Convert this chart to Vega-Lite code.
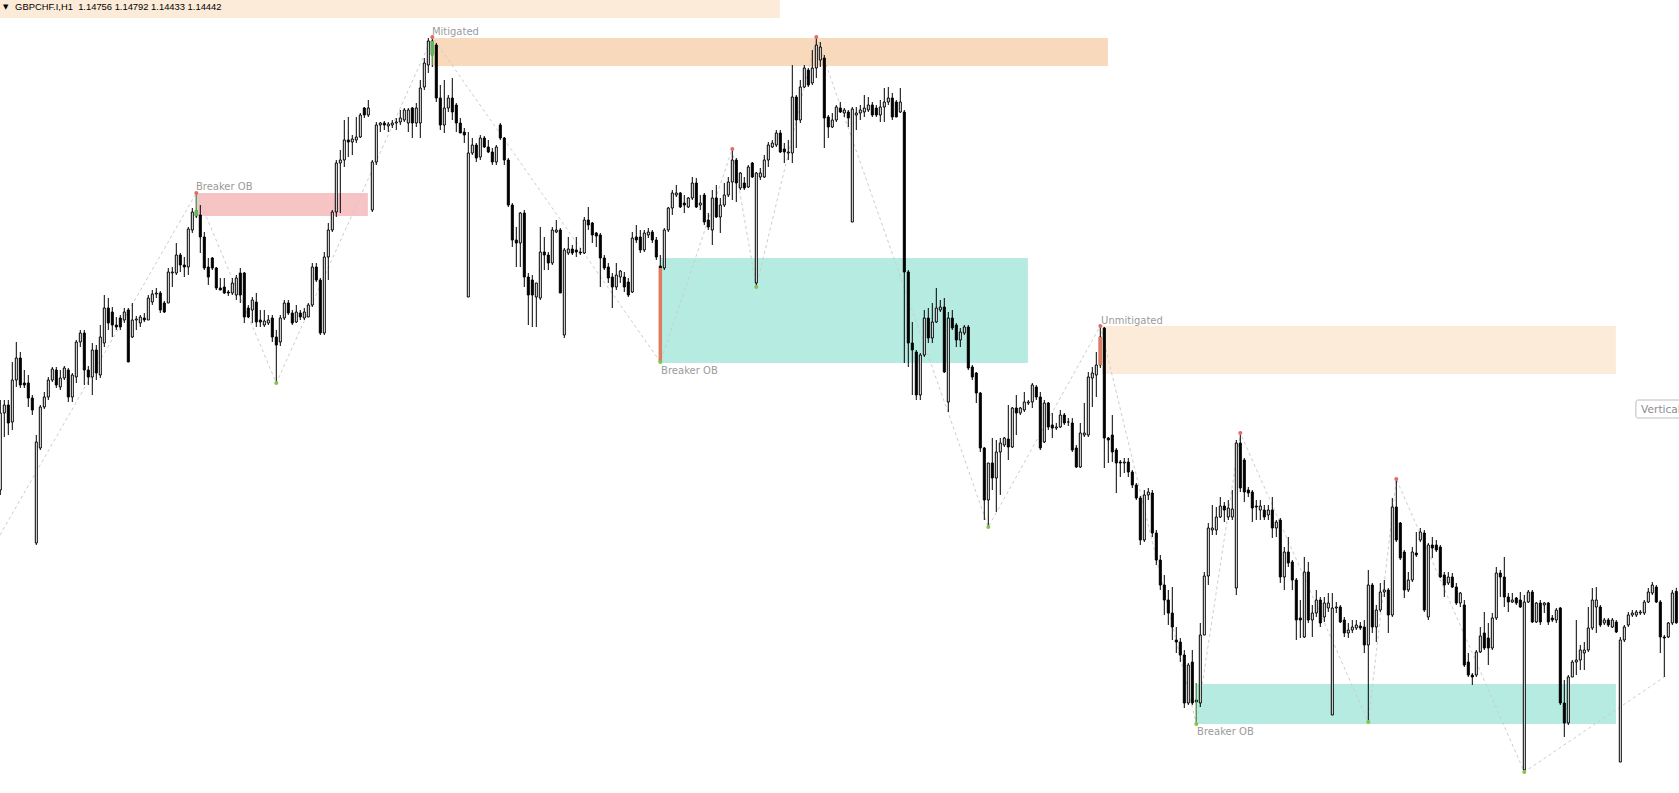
{
  "$schema": "https://vega.github.io/schema/vega-lite/v6.json",
  "width": 1679,
  "height": 793,
  "autosize": {"type": "none"},
  "padding": 0,
  "background": "#ffffff",
  "view": {"stroke": null},
  "resolve": {"scale": {"color": "independent"}},
  "datasets": {
    "candles": [
      {"bar":0,"o":1.1577,"h":1.1667,"l":1.1572,"c":1.1654},
      {"bar":1,"o":1.1654,"h":1.1667,"l":1.1630,"c":1.1662},
      {"bar":2,"o":1.1662,"h":1.1667,"l":1.1632,"c":1.1644},
      {"bar":3,"o":1.1645,"h":1.1705,"l":1.1637,"c":1.1687},
      {"bar":4,"o":1.1687,"h":1.1725,"l":1.1680,"c":1.1709},
      {"bar":5,"o":1.1709,"h":1.1715,"l":1.1679,"c":1.1682},
      {"bar":6,"o":1.1684,"h":1.1697,"l":1.1679,"c":1.1682},
      {"bar":7,"o":1.1684,"h":1.1692,"l":1.1660,"c":1.1669},
      {"bar":8,"o":1.1669,"h":1.1672,"l":1.1652,"c":1.1657},
      {"bar":9,"o":1.1524,"h":1.1632,"l":1.1522,"c":1.1625},
      {"bar":10,"o":1.1619,"h":1.1662,"l":1.1617,"c":1.1660},
      {"bar":11,"o":1.1660,"h":1.1675,"l":1.1658,"c":1.1670},
      {"bar":12,"o":1.1670,"h":1.1690,"l":1.1667,"c":1.1687},
      {"bar":13,"o":1.1687,"h":1.1700,"l":1.1685,"c":1.1698},
      {"bar":14,"o":1.1697,"h":1.1700,"l":1.1679,"c":1.1682},
      {"bar":15,"o":1.1680,"h":1.1697,"l":1.1677,"c":1.1689},
      {"bar":16,"o":1.1689,"h":1.1701,"l":1.1687,"c":1.1699},
      {"bar":17,"o":1.1697,"h":1.1699,"l":1.1665,"c":1.1670},
      {"bar":18,"o":1.1670,"h":1.1694,"l":1.1665,"c":1.1692},
      {"bar":19,"o":1.1690,"h":1.1727,"l":1.1684,"c":1.1725},
      {"bar":20,"o":1.1725,"h":1.1737,"l":1.1720,"c":1.1734},
      {"bar":21,"o":1.1734,"h":1.1737,"l":1.1682,"c":1.1697},
      {"bar":22,"o":1.1697,"h":1.1701,"l":1.1682,"c":1.1690},
      {"bar":23,"o":1.1690,"h":1.1724,"l":1.1672,"c":1.1717},
      {"bar":24,"o":1.1717,"h":1.1722,"l":1.1687,"c":1.1694},
      {"bar":25,"o":1.1692,"h":1.1742,"l":1.1689,"c":1.1730},
      {"bar":26,"o":1.1724,"h":1.1772,"l":1.1720,"c":1.1759},
      {"bar":27,"o":1.1759,"h":1.1769,"l":1.1737,"c":1.1744},
      {"bar":28,"o":1.1755,"h":1.1760,"l":1.1730,"c":1.1742},
      {"bar":29,"o":1.1742,"h":1.1750,"l":1.1737,"c":1.1740},
      {"bar":30,"o":1.1749,"h":1.1752,"l":1.1737,"c":1.1740},
      {"bar":31,"o":1.1747,"h":1.1759,"l":1.1744,"c":1.1755},
      {"bar":32,"o":1.1757,"h":1.1759,"l":1.1705,"c":1.1705},
      {"bar":33,"o":1.1730,"h":1.1764,"l":1.1729,"c":1.1747},
      {"bar":34,"o":1.1747,"h":1.1751,"l":1.1737,"c":1.1748},
      {"bar":35,"o":1.1744,"h":1.1752,"l":1.1740,"c":1.1750},
      {"bar":36,"o":1.1749,"h":1.1754,"l":1.1745,"c":1.1747},
      {"bar":37,"o":1.1747,"h":1.1772,"l":1.1747,"c":1.1769},
      {"bar":38,"o":1.1765,"h":1.1777,"l":1.1762,"c":1.1773},
      {"bar":39,"o":1.1773,"h":1.1779,"l":1.1769,"c":1.1774},
      {"bar":40,"o":1.1774,"h":1.1776,"l":1.1754,"c":1.1757},
      {"bar":41,"o":1.1764,"h":1.1766,"l":1.1754,"c":1.1755},
      {"bar":42,"o":1.1764,"h":1.1799,"l":1.1764,"c":1.1795},
      {"bar":43,"o":1.1794,"h":1.1800,"l":1.1780,"c":1.1795},
      {"bar":44,"o":1.1794,"h":1.1824,"l":1.1792,"c":1.1812},
      {"bar":45,"o":1.1812,"h":1.1814,"l":1.1795,"c":1.1802},
      {"bar":46,"o":1.1802,"h":1.1810,"l":1.1790,"c":1.1800},
      {"bar":47,"o":1.1800,"h":1.1840,"l":1.1792,"c":1.1838},
      {"bar":48,"o":1.1837,"h":1.1859,"l":1.1834,"c":1.1855},
      {"bar":49,"o":1.1855,"h":1.1874,"l":1.1849,"c":1.1851},
      {"bar":50,"o":1.1852,"h":1.1862,"l":1.1814,"c":1.1830},
      {"bar":51,"o":1.1830,"h":1.1835,"l":1.1797,"c":1.1799},
      {"bar":52,"o":1.1800,"h":1.1809,"l":1.1782,"c":1.1790},
      {"bar":53,"o":1.1809,"h":1.1810,"l":1.1797,"c":1.1799},
      {"bar":54,"o":1.1799,"h":1.1800,"l":1.1777,"c":1.1779},
      {"bar":55,"o":1.1779,"h":1.1789,"l":1.1777,"c":1.1777},
      {"bar":56,"o":1.1780,"h":1.1789,"l":1.1773,"c":1.1774},
      {"bar":57,"o":1.1775,"h":1.1777,"l":1.1771,"c":1.1774},
      {"bar":58,"o":1.1774,"h":1.1789,"l":1.1772,"c":1.1784},
      {"bar":59,"o":1.1772,"h":1.1792,"l":1.1767,"c":1.1789},
      {"bar":60,"o":1.1794,"h":1.1799,"l":1.1764,"c":1.1772},
      {"bar":61,"o":1.1794,"h":1.1795,"l":1.1744,"c":1.1750},
      {"bar":62,"o":1.1759,"h":1.1762,"l":1.1749,"c":1.1750},
      {"bar":63,"o":1.1757,"h":1.1770,"l":1.1744,"c":1.1767},
      {"bar":64,"o":1.1765,"h":1.1774,"l":1.1740,"c":1.1745},
      {"bar":65,"o":1.1747,"h":1.1757,"l":1.1740,"c":1.1745},
      {"bar":66,"o":1.1742,"h":1.1757,"l":1.1740,"c":1.1746},
      {"bar":67,"o":1.1744,"h":1.1752,"l":1.1742,"c":1.1747},
      {"bar":68,"o":1.1749,"h":1.1752,"l":1.1725,"c":1.1730},
      {"bar":69,"o":1.1730,"h":1.1737,"l":1.1684,"c":1.1722},
      {"bar":70,"o":1.1725,"h":1.1752,"l":1.1721,"c":1.1749},
      {"bar":71,"o":1.1749,"h":1.1767,"l":1.1747,"c":1.1764},
      {"bar":72,"o":1.1764,"h":1.1767,"l":1.1752,"c":1.1754},
      {"bar":73,"o":1.1754,"h":1.1757,"l":1.1742,"c":1.1744},
      {"bar":74,"o":1.1745,"h":1.1762,"l":1.1744,"c":1.1755},
      {"bar":75,"o":1.1754,"h":1.1757,"l":1.1747,"c":1.1750},
      {"bar":76,"o":1.1749,"h":1.1759,"l":1.1747,"c":1.1755},
      {"bar":77,"o":1.1750,"h":1.1764,"l":1.1750,"c":1.1762},
      {"bar":78,"o":1.1762,"h":1.1804,"l":1.1760,"c":1.1800},
      {"bar":79,"o":1.1800,"h":1.1804,"l":1.1785,"c":1.1787},
      {"bar":80,"o":1.1787,"h":1.1789,"l":1.1732,"c":1.1734},
      {"bar":81,"o":1.1734,"h":1.1815,"l":1.1732,"c":1.1810},
      {"bar":82,"o":1.1810,"h":1.1844,"l":1.1787,"c":1.1837},
      {"bar":83,"o":1.1837,"h":1.1857,"l":1.1835,"c":1.1855},
      {"bar":84,"o":1.1855,"h":1.1907,"l":1.1850,"c":1.1904},
      {"bar":85,"o":1.1904,"h":1.1917,"l":1.1854,"c":1.1907},
      {"bar":86,"o":1.1907,"h":1.1947,"l":1.1900,"c":1.1927},
      {"bar":87,"o":1.1927,"h":1.1950,"l":1.1910,"c":1.1925},
      {"bar":88,"o":1.1925,"h":1.1932,"l":1.1912,"c":1.1928},
      {"bar":89,"o":1.1927,"h":1.1950,"l":1.1924,"c":1.1930},
      {"bar":90,"o":1.1930,"h":1.1954,"l":1.1929,"c":1.1952},
      {"bar":91,"o":1.1959,"h":1.1960,"l":1.1949,"c":1.1952},
      {"bar":92,"o":1.1952,"h":1.1967,"l":1.1950,"c":1.1959},
      {"bar":93,"o":1.1857,"h":1.1907,"l":1.1855,"c":1.1905},
      {"bar":94,"o":1.1905,"h":1.1945,"l":1.1902,"c":1.1942},
      {"bar":95,"o":1.1942,"h":1.1945,"l":1.1935,"c":1.1944},
      {"bar":96,"o":1.1944,"h":1.1946,"l":1.1937,"c":1.1942},
      {"bar":97,"o":1.1941,"h":1.1945,"l":1.1935,"c":1.1943},
      {"bar":98,"o":1.1942,"h":1.1947,"l":1.1939,"c":1.1944},
      {"bar":99,"o":1.1944,"h":1.1949,"l":1.1937,"c":1.1945},
      {"bar":100,"o":1.1945,"h":1.1957,"l":1.1942,"c":1.1949},
      {"bar":101,"o":1.1947,"h":1.1959,"l":1.1945,"c":1.1957},
      {"bar":102,"o":1.1944,"h":1.1959,"l":1.1935,"c":1.1957},
      {"bar":103,"o":1.1959,"h":1.1960,"l":1.1929,"c":1.1944},
      {"bar":104,"o":1.1944,"h":1.1964,"l":1.1940,"c":1.1959},
      {"bar":105,"o":1.1944,"h":1.1987,"l":1.1929,"c":1.1979},
      {"bar":106,"o":1.1980,"h":1.2009,"l":1.1977,"c":1.2004},
      {"bar":107,"o":1.2002,"h":1.2029,"l":1.1994,"c":1.2026},
      {"bar":108,"o":1.2026,"h":1.2030,"l":1.2000,"c":1.2012},
      {"bar":109,"o":1.2022,"h":1.2024,"l":1.1965,"c":1.1969},
      {"bar":110,"o":1.1969,"h":1.1982,"l":1.1937,"c":1.1942},
      {"bar":111,"o":1.1942,"h":1.1987,"l":1.1934,"c":1.1959},
      {"bar":112,"o":1.1959,"h":1.1972,"l":1.1955,"c":1.1969},
      {"bar":113,"o":1.1969,"h":1.1989,"l":1.1947,"c":1.1955},
      {"bar":114,"o":1.1962,"h":1.1964,"l":1.1935,"c":1.1944},
      {"bar":115,"o":1.1944,"h":1.1949,"l":1.1934,"c":1.1934},
      {"bar":116,"o":1.1935,"h":1.1939,"l":1.1924,"c":1.1932},
      {"bar":117,"o":1.1770,"h":1.1935,"l":1.1770,"c":1.1914},
      {"bar":118,"o":1.1914,"h":1.1929,"l":1.1912,"c":1.1922},
      {"bar":119,"o":1.1922,"h":1.1924,"l":1.1905,"c":1.1909},
      {"bar":120,"o":1.1910,"h":1.1932,"l":1.1907,"c":1.1929},
      {"bar":121,"o":1.1929,"h":1.1931,"l":1.1919,"c":1.1920},
      {"bar":122,"o":1.1920,"h":1.1927,"l":1.1914,"c":1.1915},
      {"bar":123,"o":1.1915,"h":1.1919,"l":1.1902,"c":1.1905},
      {"bar":124,"o":1.1905,"h":1.1922,"l":1.1902,"c":1.1920},
      {"bar":125,"o":1.1942,"h":1.1944,"l":1.1927,"c":1.1929},
      {"bar":126,"o":1.1929,"h":1.1930,"l":1.1902,"c":1.1907},
      {"bar":127,"o":1.1907,"h":1.1909,"l":1.1860,"c":1.1862},
      {"bar":128,"o":1.1862,"h":1.1864,"l":1.1820,"c":1.1827},
      {"bar":129,"o":1.1827,"h":1.1840,"l":1.1800,"c":1.1824},
      {"bar":130,"o":1.1824,"h":1.1855,"l":1.1800,"c":1.1854},
      {"bar":131,"o":1.1854,"h":1.1857,"l":1.1780,"c":1.1790},
      {"bar":132,"o":1.1790,"h":1.1794,"l":1.1742,"c":1.1772},
      {"bar":133,"o":1.1787,"h":1.1792,"l":1.1740,"c":1.1772},
      {"bar":134,"o":1.1770,"h":1.1784,"l":1.1740,"c":1.1784},
      {"bar":135,"o":1.1769,"h":1.1840,"l":1.1767,"c":1.1815},
      {"bar":136,"o":1.1815,"h":1.1830,"l":1.1797,"c":1.1812},
      {"bar":137,"o":1.1812,"h":1.1815,"l":1.1797,"c":1.1804},
      {"bar":138,"o":1.1804,"h":1.1840,"l":1.1802,"c":1.1837},
      {"bar":139,"o":1.1835,"h":1.1847,"l":1.1834,"c":1.1837},
      {"bar":140,"o":1.1837,"h":1.1839,"l":1.1774,"c":1.1774},
      {"bar":141,"o":1.1732,"h":1.1819,"l":1.1729,"c":1.1817},
      {"bar":142,"o":1.1814,"h":1.1830,"l":1.1812,"c":1.1818},
      {"bar":143,"o":1.1818,"h":1.1822,"l":1.1812,"c":1.1814},
      {"bar":144,"o":1.1817,"h":1.1830,"l":1.1810,"c":1.1815},
      {"bar":145,"o":1.1815,"h":1.1819,"l":1.1812,"c":1.1814},
      {"bar":146,"o":1.1814,"h":1.1850,"l":1.1813,"c":1.1847},
      {"bar":147,"o":1.1847,"h":1.1860,"l":1.1837,"c":1.1842},
      {"bar":148,"o":1.1844,"h":1.1845,"l":1.1824,"c":1.1832},
      {"bar":149,"o":1.1834,"h":1.1835,"l":1.1820,"c":1.1831},
      {"bar":150,"o":1.1832,"h":1.1834,"l":1.1780,"c":1.1809},
      {"bar":151,"o":1.1809,"h":1.1812,"l":1.1797,"c":1.1799},
      {"bar":152,"o":1.1800,"h":1.1804,"l":1.1784,"c":1.1789},
      {"bar":153,"o":1.1790,"h":1.1794,"l":1.1759,"c":1.1780},
      {"bar":154,"o":1.1780,"h":1.1804,"l":1.1777,"c":1.1792},
      {"bar":155,"o":1.1790,"h":1.1797,"l":1.1784,"c":1.1796},
      {"bar":156,"o":1.1790,"h":1.1795,"l":1.1775,"c":1.1780},
      {"bar":157,"o":1.1785,"h":1.1789,"l":1.1770,"c":1.1772},
      {"bar":158,"o":1.1775,"h":1.1835,"l":1.1774,"c":1.1829},
      {"bar":159,"o":1.1830,"h":1.1842,"l":1.1824,"c":1.1827},
      {"bar":160,"o":1.1830,"h":1.1837,"l":1.1814,"c":1.1817},
      {"bar":161,"o":1.1817,"h":1.1837,"l":1.1815,"c":1.1834},
      {"bar":162,"o":1.1832,"h":1.1839,"l":1.1829,"c":1.1835},
      {"bar":163,"o":1.1835,"h":1.1837,"l":1.1824,"c":1.1827},
      {"bar":164,"o":1.1827,"h":1.1830,"l":1.1807,"c":1.1810},
      {"bar":165,"o":1.1801,"h":1.1812,"l":1.1705,"c":1.1799},
      {"bar":166,"o":1.1799,"h":1.1839,"l":1.1797,"c":1.1837},
      {"bar":167,"o":1.1837,"h":1.1860,"l":1.1835,"c":1.1859},
      {"bar":168,"o":1.1859,"h":1.1877,"l":1.1852,"c":1.1874},
      {"bar":169,"o":1.1872,"h":1.1882,"l":1.1870,"c":1.1874},
      {"bar":170,"o":1.1874,"h":1.1875,"l":1.1859,"c":1.1860},
      {"bar":171,"o":1.1864,"h":1.1872,"l":1.1854,"c":1.1862},
      {"bar":172,"o":1.1860,"h":1.1870,"l":1.1859,"c":1.1869},
      {"bar":173,"o":1.1869,"h":1.1890,"l":1.1867,"c":1.1884},
      {"bar":174,"o":1.1884,"h":1.1889,"l":1.1859,"c":1.1860},
      {"bar":175,"o":1.1862,"h":1.1872,"l":1.1857,"c":1.1864},
      {"bar":176,"o":1.1872,"h":1.1874,"l":1.1842,"c":1.1845},
      {"bar":177,"o":1.1847,"h":1.1854,"l":1.1837,"c":1.1840},
      {"bar":178,"o":1.1837,"h":1.1877,"l":1.1822,"c":1.1869},
      {"bar":179,"o":1.1869,"h":1.1882,"l":1.1849,"c":1.1850},
      {"bar":180,"o":1.1850,"h":1.1869,"l":1.1834,"c":1.1862},
      {"bar":181,"o":1.1862,"h":1.1884,"l":1.1860,"c":1.1872},
      {"bar":182,"o":1.1872,"h":1.1890,"l":1.1870,"c":1.1885},
      {"bar":183,"o":1.1885,"h":1.1918,"l":1.1867,"c":1.1907},
      {"bar":184,"o":1.1907,"h":1.1909,"l":1.1865,"c":1.1884},
      {"bar":185,"o":1.1879,"h":1.1895,"l":1.1877,"c":1.1894},
      {"bar":186,"o":1.1884,"h":1.1890,"l":1.1877,"c":1.1879},
      {"bar":187,"o":1.1880,"h":1.1902,"l":1.1879,"c":1.1900},
      {"bar":188,"o":1.1904,"h":1.1905,"l":1.1889,"c":1.1890},
      {"bar":189,"o":1.1784,"h":1.1895,"l":1.1780,"c":1.1894},
      {"bar":190,"o":1.1890,"h":1.1899,"l":1.1887,"c":1.1894},
      {"bar":191,"o":1.1890,"h":1.1912,"l":1.1889,"c":1.1907},
      {"bar":192,"o":1.1907,"h":1.1925,"l":1.1900,"c":1.1922},
      {"bar":193,"o":1.1920,"h":1.1927,"l":1.1919,"c":1.1924},
      {"bar":194,"o":1.1922,"h":1.1937,"l":1.1920,"c":1.1934},
      {"bar":195,"o":1.1934,"h":1.1937,"l":1.1914,"c":1.1915},
      {"bar":196,"o":1.1918,"h":1.1924,"l":1.1904,"c":1.1915},
      {"bar":197,"o":1.1914,"h":1.1927,"l":1.1907,"c":1.1915},
      {"bar":198,"o":1.1914,"h":1.2002,"l":1.1904,"c":1.1970},
      {"bar":199,"o":1.1970,"h":1.1972,"l":1.1919,"c":1.1947},
      {"bar":200,"o":1.1947,"h":1.1987,"l":1.1944,"c":1.1980},
      {"bar":201,"o":1.1980,"h":1.2002,"l":1.1979,"c":1.1999},
      {"bar":202,"o":1.1997,"h":1.1999,"l":1.1980,"c":1.1982},
      {"bar":203,"o":1.1984,"h":1.2017,"l":1.1982,"c":1.1999},
      {"bar":204,"o":1.1999,"h":1.2030,"l":1.1989,"c":1.2022},
      {"bar":205,"o":1.2007,"h":1.2025,"l":1.2000,"c":1.2020},
      {"bar":206,"o":1.2009,"h":1.2012,"l":1.1919,"c":1.1949},
      {"bar":207,"o":1.1950,"h":1.1952,"l":1.1929,"c":1.1940},
      {"bar":208,"o":1.1940,"h":1.1954,"l":1.1939,"c":1.1947},
      {"bar":209,"o":1.1947,"h":1.1962,"l":1.1945,"c":1.1960},
      {"bar":210,"o":1.1959,"h":1.1965,"l":1.1954,"c":1.1955},
      {"bar":211,"o":1.1954,"h":1.1959,"l":1.1950,"c":1.1957},
      {"bar":212,"o":1.1955,"h":1.1957,"l":1.1940,"c":1.1949},
      {"bar":213,"o":1.1845,"h":1.1960,"l":1.1845,"c":1.1958},
      {"bar":214,"o":1.1952,"h":1.1960,"l":1.1937,"c":1.1954},
      {"bar":215,"o":1.1954,"h":1.1962,"l":1.1947,"c":1.1957},
      {"bar":216,"o":1.1955,"h":1.1972,"l":1.1950,"c":1.1959},
      {"bar":217,"o":1.1957,"h":1.1970,"l":1.1955,"c":1.1962},
      {"bar":218,"o":1.1962,"h":1.1965,"l":1.1950,"c":1.1952},
      {"bar":219,"o":1.1959,"h":1.1962,"l":1.1950,"c":1.1952},
      {"bar":220,"o":1.1952,"h":1.1967,"l":1.1945,"c":1.1960},
      {"bar":221,"o":1.1960,"h":1.1979,"l":1.1945,"c":1.1965},
      {"bar":222,"o":1.1965,"h":1.1980,"l":1.1962,"c":1.1969},
      {"bar":223,"o":1.1969,"h":1.1974,"l":1.1947,"c":1.1950},
      {"bar":224,"o":1.1965,"h":1.1967,"l":1.1950,"c":1.1950},
      {"bar":225,"o":1.1955,"h":1.1979,"l":1.1954,"c":1.1965},
      {"bar":226,"o":1.1955,"h":1.1957,"l":1.1704,"c":1.1795},
      {"bar":227,"o":1.1795,"h":1.1797,"l":1.1700,"c":1.1724},
      {"bar":228,"o":1.1724,"h":1.1745,"l":1.1672,"c":1.1717},
      {"bar":229,"o":1.1715,"h":1.1717,"l":1.1667,"c":1.1672},
      {"bar":230,"o":1.1672,"h":1.1714,"l":1.1667,"c":1.1712},
      {"bar":231,"o":1.1712,"h":1.1757,"l":1.1710,"c":1.1749},
      {"bar":232,"o":1.1749,"h":1.1759,"l":1.1724,"c":1.1729},
      {"bar":233,"o":1.1729,"h":1.1764,"l":1.1724,"c":1.1745},
      {"bar":234,"o":1.1745,"h":1.1779,"l":1.1744,"c":1.1759},
      {"bar":235,"o":1.1757,"h":1.1767,"l":1.1755,"c":1.1760},
      {"bar":236,"o":1.1760,"h":1.1769,"l":1.1694,"c":1.1695},
      {"bar":237,"o":1.1665,"h":1.1755,"l":1.1655,"c":1.1749},
      {"bar":238,"o":1.1749,"h":1.1757,"l":1.1737,"c":1.1739},
      {"bar":239,"o":1.1742,"h":1.1744,"l":1.1720,"c":1.1727},
      {"bar":240,"o":1.1727,"h":1.1739,"l":1.1720,"c":1.1735},
      {"bar":241,"o":1.1734,"h":1.1742,"l":1.1732,"c":1.1740},
      {"bar":242,"o":1.1740,"h":1.1742,"l":1.1697,"c":1.1699},
      {"bar":243,"o":1.1700,"h":1.1702,"l":1.1687,"c":1.1690},
      {"bar":244,"o":1.1694,"h":1.1695,"l":1.1664,"c":1.1674},
      {"bar":245,"o":1.1674,"h":1.1675,"l":1.1615,"c":1.1619},
      {"bar":246,"o":1.1619,"h":1.1620,"l":1.1547,"c":1.1567},
      {"bar":247,"o":1.1567,"h":1.1604,"l":1.1540,"c":1.1604},
      {"bar":248,"o":1.1604,"h":1.1629,"l":1.1577,"c":1.1589},
      {"bar":249,"o":1.1589,"h":1.1627,"l":1.1555,"c":1.1615},
      {"bar":250,"o":1.1615,"h":1.1629,"l":1.1572,"c":1.1624},
      {"bar":251,"o":1.1622,"h":1.1630,"l":1.1620,"c":1.1629},
      {"bar":252,"o":1.1628,"h":1.1662,"l":1.1607,"c":1.1620},
      {"bar":253,"o":1.1620,"h":1.1660,"l":1.1619,"c":1.1659},
      {"bar":254,"o":1.1659,"h":1.1672,"l":1.1632,"c":1.1654},
      {"bar":255,"o":1.1654,"h":1.1660,"l":1.1652,"c":1.1659},
      {"bar":256,"o":1.1657,"h":1.1675,"l":1.1655,"c":1.1665},
      {"bar":257,"o":1.1664,"h":1.1667,"l":1.1662,"c":1.1665},
      {"bar":258,"o":1.1665,"h":1.1684,"l":1.1659,"c":1.1682},
      {"bar":259,"o":1.1680,"h":1.1682,"l":1.1667,"c":1.1670},
      {"bar":260,"o":1.1670,"h":1.1675,"l":1.1617,"c":1.1619},
      {"bar":261,"o":1.1625,"h":1.1667,"l":1.1624,"c":1.1664},
      {"bar":262,"o":1.1664,"h":1.1665,"l":1.1637,"c":1.1640},
      {"bar":263,"o":1.1642,"h":1.1654,"l":1.1629,"c":1.1639},
      {"bar":264,"o":1.1639,"h":1.1644,"l":1.1637,"c":1.1640},
      {"bar":265,"o":1.1640,"h":1.1657,"l":1.1639,"c":1.1652},
      {"bar":266,"o":1.1652,"h":1.1654,"l":1.1642,"c":1.1644},
      {"bar":267,"o":1.1645,"h":1.1649,"l":1.1641,"c":1.1645},
      {"bar":268,"o":1.1644,"h":1.1649,"l":1.1615,"c":1.1617},
      {"bar":269,"o":1.1619,"h":1.1622,"l":1.1599,"c":1.1600},
      {"bar":270,"o":1.1600,"h":1.1644,"l":1.1599,"c":1.1634},
      {"bar":271,"o":1.1632,"h":1.1664,"l":1.1630,"c":1.1634},
      {"bar":272,"o":1.1632,"h":1.1695,"l":1.1630,"c":1.1690},
      {"bar":273,"o":1.1689,"h":1.1700,"l":1.1660,"c":1.1694},
      {"bar":274,"o":1.1692,"h":1.1715,"l":1.1670,"c":1.1702},
      {"bar":275,"o":1.1702,"h":1.1741,"l":1.1699,"c":1.1730},
      {"bar":276,"o":1.1739,"h":1.1740,"l":1.1599,"c":1.1629},
      {"bar":277,"o":1.1629,"h":1.1630,"l":1.1604,"c":1.1627},
      {"bar":278,"o":1.1632,"h":1.1652,"l":1.1605,"c":1.1615},
      {"bar":279,"o":1.1617,"h":1.1619,"l":1.1574,"c":1.1604},
      {"bar":280,"o":1.1605,"h":1.1607,"l":1.1590,"c":1.1604},
      {"bar":281,"o":1.1604,"h":1.1609,"l":1.1594,"c":1.1605},
      {"bar":282,"o":1.1605,"h":1.1609,"l":1.1590,"c":1.1595},
      {"bar":283,"o":1.1595,"h":1.1597,"l":1.1579,"c":1.1582},
      {"bar":284,"o":1.1582,"h":1.1584,"l":1.1567,"c":1.1569},
      {"bar":285,"o":1.1569,"h":1.1571,"l":1.1522,"c":1.1527},
      {"bar":286,"o":1.1527,"h":1.1577,"l":1.1525,"c":1.1572},
      {"bar":287,"o":1.1572,"h":1.1579,"l":1.1567,"c":1.1575},
      {"bar":288,"o":1.1574,"h":1.1577,"l":1.1530,"c":1.1534},
      {"bar":289,"o":1.1534,"h":1.1537,"l":1.1502,"c":1.1507},
      {"bar":290,"o":1.1507,"h":1.1512,"l":1.1477,"c":1.1482},
      {"bar":291,"o":1.1482,"h":1.1492,"l":1.1452,"c":1.1467},
      {"bar":292,"o":1.1467,"h":1.1477,"l":1.1442,"c":1.1454},
      {"bar":293,"o":1.1454,"h":1.1480,"l":1.1427,"c":1.1440},
      {"bar":294,"o":1.1427,"h":1.1440,"l":1.1414,"c":1.1425},
      {"bar":295,"o":1.1425,"h":1.1429,"l":1.1405,"c":1.1412},
      {"bar":296,"o":1.1412,"h":1.1417,"l":1.1359,"c":1.1364},
      {"bar":297,"o":1.1364,"h":1.1404,"l":1.1362,"c":1.1402},
      {"bar":298,"o":1.1405,"h":1.1417,"l":1.1362,"c":1.1364},
      {"bar":299,"o":1.1367,"h":1.1384,"l":1.1343,"c":1.1365},
      {"bar":300,"o":1.1364,"h":1.1444,"l":1.1360,"c":1.1432},
      {"bar":301,"o":1.1432,"h":1.1495,"l":1.1432,"c":1.1491},
      {"bar":302,"o":1.1491,"h":1.1544,"l":1.1482,"c":1.1539},
      {"bar":303,"o":1.1537,"h":1.1562,"l":1.1532,"c":1.1539},
      {"bar":304,"o":1.1537,"h":1.1560,"l":1.1532,"c":1.1550},
      {"bar":305,"o":1.1550,"h":1.1570,"l":1.1549,"c":1.1561},
      {"bar":306,"o":1.1561,"h":1.1565,"l":1.1545,"c":1.1557},
      {"bar":307,"o":1.1550,"h":1.1567,"l":1.1547,"c":1.1559},
      {"bar":308,"o":1.1550,"h":1.1577,"l":1.1547,"c":1.1558},
      {"bar":309,"o":1.1479,"h":1.1627,"l":1.1472,"c":1.1624},
      {"bar":310,"o":1.1624,"h":1.1632,"l":1.1575,"c":1.1579},
      {"bar":311,"o":1.1607,"h":1.1609,"l":1.1565,"c":1.1575},
      {"bar":312,"o":1.1577,"h":1.1580,"l":1.1570,"c":1.1574},
      {"bar":313,"o":1.1575,"h":1.1577,"l":1.1545,"c":1.1559},
      {"bar":314,"o":1.1561,"h":1.1567,"l":1.1547,"c":1.1560},
      {"bar":315,"o":1.1557,"h":1.1567,"l":1.1547,"c":1.1561},
      {"bar":316,"o":1.1557,"h":1.1562,"l":1.1547,"c":1.1550},
      {"bar":317,"o":1.1552,"h":1.1562,"l":1.1547,"c":1.1557},
      {"bar":318,"o":1.1557,"h":1.1570,"l":1.1529,"c":1.1539},
      {"bar":319,"o":1.1539,"h":1.1547,"l":1.1530,"c":1.1545},
      {"bar":320,"o":1.1547,"h":1.1549,"l":1.1484,"c":1.1490},
      {"bar":321,"o":1.1490,"h":1.1520,"l":1.1477,"c":1.1515},
      {"bar":322,"o":1.1515,"h":1.1530,"l":1.1500,"c":1.1504},
      {"bar":323,"o":1.1505,"h":1.1507,"l":1.1477,"c":1.1487},
      {"bar":324,"o":1.1487,"h":1.1489,"l":1.1427,"c":1.1447},
      {"bar":325,"o":1.1449,"h":1.1467,"l":1.1429,"c":1.1447},
      {"bar":326,"o":1.1430,"h":1.1510,"l":1.1429,"c":1.1495},
      {"bar":327,"o":1.1495,"h":1.1505,"l":1.1444,"c":1.1447},
      {"bar":328,"o":1.1447,"h":1.1462,"l":1.1430,"c":1.1454},
      {"bar":329,"o":1.1454,"h":1.1477,"l":1.1450,"c":1.1467},
      {"bar":330,"o":1.1467,"h":1.1470,"l":1.1440,"c":1.1444},
      {"bar":331,"o":1.1450,"h":1.1470,"l":1.1445,"c":1.1464},
      {"bar":332,"o":1.1459,"h":1.1474,"l":1.1455,"c":1.1464},
      {"bar":333,"o":1.1352,"h":1.1474,"l":1.1352,"c":1.1459},
      {"bar":334,"o":1.1459,"h":1.1465,"l":1.1454,"c":1.1460},
      {"bar":335,"o":1.1460,"h":1.1462,"l":1.1444,"c":1.1445},
      {"bar":336,"o":1.1447,"h":1.1450,"l":1.1430,"c":1.1434},
      {"bar":337,"o":1.1434,"h":1.1444,"l":1.1429,"c":1.1437},
      {"bar":338,"o":1.1437,"h":1.1447,"l":1.1434,"c":1.1440},
      {"bar":339,"o":1.1439,"h":1.1447,"l":1.1437,"c":1.1442},
      {"bar":340,"o":1.1441,"h":1.1445,"l":1.1437,"c":1.1439},
      {"bar":341,"o":1.1440,"h":1.1447,"l":1.1414,"c":1.1422},
      {"bar":342,"o":1.1422,"h":1.1497,"l":1.1345,"c":1.1482},
      {"bar":343,"o":1.1482,"h":1.1484,"l":1.1434,"c":1.1440},
      {"bar":344,"o":1.1440,"h":1.1462,"l":1.1425,"c":1.1457},
      {"bar":345,"o":1.1457,"h":1.1484,"l":1.1455,"c":1.1475},
      {"bar":346,"o":1.1475,"h":1.1487,"l":1.1470,"c":1.1477},
      {"bar":347,"o":1.1477,"h":1.1479,"l":1.1434,"c":1.1452},
      {"bar":348,"o":1.1452,"h":1.1569,"l":1.1450,"c":1.1560},
      {"bar":349,"o":1.1560,"h":1.1588,"l":1.1525,"c":1.1527},
      {"bar":350,"o":1.1544,"h":1.1545,"l":1.1507,"c":1.1509},
      {"bar":351,"o":1.1515,"h":1.1517,"l":1.1469,"c":1.1477},
      {"bar":352,"o":1.1477,"h":1.1495,"l":1.1475,"c":1.1487},
      {"bar":353,"o":1.1487,"h":1.1520,"l":1.1485,"c":1.1515},
      {"bar":354,"o":1.1514,"h":1.1535,"l":1.1510,"c":1.1512},
      {"bar":355,"o":1.1527,"h":1.1539,"l":1.1525,"c":1.1535},
      {"bar":356,"o":1.1534,"h":1.1537,"l":1.1455,"c":1.1457},
      {"bar":357,"o":1.1450,"h":1.1524,"l":1.1447,"c":1.1522},
      {"bar":358,"o":1.1522,"h":1.1530,"l":1.1509,"c":1.1519},
      {"bar":359,"o":1.1522,"h":1.1527,"l":1.1515,"c":1.1517},
      {"bar":360,"o":1.1520,"h":1.1522,"l":1.1489,"c":1.1490},
      {"bar":361,"o":1.1492,"h":1.1495,"l":1.1470,"c":1.1482},
      {"bar":362,"o":1.1484,"h":1.1495,"l":1.1482,"c":1.1490},
      {"bar":363,"o":1.1490,"h":1.1494,"l":1.1479,"c":1.1480},
      {"bar":364,"o":1.1480,"h":1.1484,"l":1.1462,"c":1.1464},
      {"bar":365,"o":1.1464,"h":1.1475,"l":1.1460,"c":1.1474},
      {"bar":366,"o":1.1462,"h":1.1467,"l":1.1400,"c":1.1402},
      {"bar":367,"o":1.1405,"h":1.1414,"l":1.1390,"c":1.1392},
      {"bar":368,"o":1.1392,"h":1.1394,"l":1.1382,"c":1.1390},
      {"bar":369,"o":1.1392,"h":1.1417,"l":1.1390,"c":1.1415},
      {"bar":370,"o":1.1415,"h":1.1440,"l":1.1414,"c":1.1431},
      {"bar":371,"o":1.1434,"h":1.1455,"l":1.1417,"c":1.1419},
      {"bar":372,"o":1.1429,"h":1.1444,"l":1.1402,"c":1.1419},
      {"bar":373,"o":1.1419,"h":1.1454,"l":1.1417,"c":1.1449},
      {"bar":374,"o":1.1449,"h":1.1500,"l":1.1447,"c":1.1494},
      {"bar":375,"o":1.1494,"h":1.1497,"l":1.1470,"c":1.1490},
      {"bar":376,"o":1.1490,"h":1.1510,"l":1.1460,"c":1.1470},
      {"bar":377,"o":1.1470,"h":1.1474,"l":1.1455,"c":1.1465},
      {"bar":378,"o":1.1465,"h":1.1474,"l":1.1464,"c":1.1467},
      {"bar":379,"o":1.1469,"h":1.1470,"l":1.1462,"c":1.1464},
      {"bar":380,"o":1.1467,"h":1.1475,"l":1.1459,"c":1.1460},
      {"bar":381,"o":1.1297,"h":1.1472,"l":1.1295,"c":1.1465},
      {"bar":382,"o":1.1465,"h":1.1477,"l":1.1464,"c":1.1475},
      {"bar":383,"o":1.1475,"h":1.1477,"l":1.1444,"c":1.1445},
      {"bar":384,"o":1.1445,"h":1.1465,"l":1.1444,"c":1.1464},
      {"bar":385,"o":1.1464,"h":1.1467,"l":1.1442,"c":1.1445},
      {"bar":386,"o":1.1462,"h":1.1465,"l":1.1454,"c":1.1464},
      {"bar":387,"o":1.1464,"h":1.1465,"l":1.1442,"c":1.1445},
      {"bar":388,"o":1.1449,"h":1.1452,"l":1.1445,"c":1.1447},
      {"bar":389,"o":1.1447,"h":1.1459,"l":1.1444,"c":1.1457},
      {"bar":390,"o":1.1459,"h":1.1460,"l":1.1362,"c":1.1364},
      {"bar":391,"o":1.1364,"h":1.1387,"l":1.1330,"c":1.1344},
      {"bar":392,"o":1.1344,"h":1.1392,"l":1.1342,"c":1.1390},
      {"bar":393,"o":1.1390,"h":1.1407,"l":1.1390,"c":1.1405},
      {"bar":394,"o":1.1405,"h":1.1447,"l":1.1392,"c":1.1407},
      {"bar":395,"o":1.1407,"h":1.1422,"l":1.1397,"c":1.1417},
      {"bar":396,"o":1.1414,"h":1.1425,"l":1.1397,"c":1.1417},
      {"bar":397,"o":1.1417,"h":1.1460,"l":1.1415,"c":1.1439},
      {"bar":398,"o":1.1439,"h":1.1479,"l":1.1437,"c":1.1467},
      {"bar":399,"o":1.1460,"h":1.1480,"l":1.1434,"c":1.1467},
      {"bar":400,"o":1.1460,"h":1.1462,"l":1.1440,"c":1.1442},
      {"bar":401,"o":1.1444,"h":1.1449,"l":1.1442,"c":1.1447},
      {"bar":402,"o":1.1447,"h":1.1449,"l":1.1440,"c":1.1442},
      {"bar":403,"o":1.1440,"h":1.1449,"l":1.1439,"c":1.1447},
      {"bar":404,"o":1.1445,"h":1.1447,"l":1.1434,"c":1.1435},
      {"bar":405,"o":1.1305,"h":1.1430,"l":1.1305,"c":1.1427},
      {"bar":406,"o":1.1427,"h":1.1442,"l":1.1425,"c":1.1440},
      {"bar":407,"o":1.1442,"h":1.1455,"l":1.1440,"c":1.1452},
      {"bar":408,"o":1.1452,"h":1.1457,"l":1.1450,"c":1.1454},
      {"bar":409,"o":1.1452,"h":1.1457,"l":1.1450,"c":1.1455},
      {"bar":410,"o":1.1454,"h":1.1457,"l":1.1452,"c":1.1455},
      {"bar":411,"o":1.1454,"h":1.1467,"l":1.1452,"c":1.1465},
      {"bar":412,"o":1.1465,"h":1.1479,"l":1.1464,"c":1.1475},
      {"bar":413,"o":1.1474,"h":1.1485,"l":1.1472,"c":1.1482},
      {"bar":414,"o":1.1480,"h":1.1482,"l":1.1464,"c":1.1465},
      {"bar":415,"o":1.1465,"h":1.1467,"l":1.1414,"c":1.1430},
      {"bar":416,"o":1.1430,"h":1.1432,"l":1.1390,"c":1.1429},
      {"bar":417,"o":1.1430,"h":1.1445,"l":1.1429,"c":1.1444},
      {"bar":418,"o":1.1444,"h":1.1477,"l":1.1442,"c":1.1474},
      {"bar":419,"o":1.14756,"h":1.14792,"l":1.14433,"c":1.14442}
    ],
    "zones": [
      {"kind":"breaker_supply","from":49.2,"to":91.9,"top":1.1874,"bottom":1.1851},
      {"kind":"mitigated","from":108.2,"to":276.9,"top":1.2029,"bottom":1.2001},
      {"kind":"breaker_demand","from":165.2,"to":256.9,"top":1.1809,"bottom":1.1704},
      {"kind":"unmitigated","from":275.4,"to":403.9,"top":1.1741,"bottom":1.1693},
      {"kind":"breaker_demand","from":299.2,"to":403.9,"top":1.1383,"bottom":1.1343}
    ],
    "zigzag": [
      {"bar":-0.075,"price":1.1532},
      {"bar":49,"price":1.1874},
      {"bar":69,"price":1.1684},
      {"bar":108,"price":1.2030},
      {"bar":165,"price":1.1705},
      {"bar":183,"price":1.1918},
      {"bar":189,"price":1.1780},
      {"bar":204,"price":1.2030},
      {"bar":247,"price":1.1540},
      {"bar":275,"price":1.1741},
      {"bar":299,"price":1.1343},
      {"bar":310,"price":1.1634},
      {"bar":342,"price":1.1345},
      {"bar":349,"price":1.1588},
      {"bar":381,"price":1.1295},
      {"bar":416,"price":1.1390}
    ],
    "swings": [
      {"bar":49,"price":1.1874,"type":"high"},
      {"bar":69,"price":1.1684,"type":"low"},
      {"bar":108,"price":1.2030,"type":"high"},
      {"bar":165,"price":1.1705,"type":"low"},
      {"bar":183,"price":1.1918,"type":"high"},
      {"bar":189,"price":1.1780,"type":"low"},
      {"bar":204,"price":1.2030,"type":"high"},
      {"bar":247,"price":1.1540,"type":"low"},
      {"bar":275,"price":1.1741,"type":"high"},
      {"bar":299,"price":1.1343,"type":"low"},
      {"bar":310,"price":1.1634,"type":"high"},
      {"bar":342,"price":1.1345,"type":"low"},
      {"bar":349,"price":1.1588,"type":"high"},
      {"bar":381,"price":1.1295,"type":"low"}
    ],
    "obcandles": [
      {"bar":49,"part":"wick","dir":"bull","from":1.1874,"to":1.1857},
      {"bar":49,"part":"body","dir":"bull","from":1.1857,"to":1.1851},
      {"bar":108,"part":"body","dir":"bull","from":1.2026,"to":1.2012},
      {"bar":108,"part":"wick","dir":"bull","from":1.2012,"to":1.2002},
      {"bar":165,"part":"body","dir":"bear","from":1.1799,"to":1.1705},
      {"bar":275,"part":"body","dir":"bear","from":1.1730,"to":1.1702},
      {"bar":299,"part":"wick","dir":"bull","from":1.1384,"to":1.1343}
    ],
    "labels": [
      {"bar":48.9,"price":1.1877,"text":"Breaker OB"},
      {"bar":107.9,"price":1.2032,"text":"Mitigated"},
      {"bar":165.2,"price":1.1693,"text":"Breaker OB"},
      {"bar":275.2,"price":1.1743,"text":"Unmitigated"},
      {"bar":299.2,"price":1.1332,"text":"Breaker OB"}
    ]
  },
  "layer": [
    {
      "data": {"values": [{"from": -0.075, "to": 194.9, "top": 1.2067, "bottom": 1.2049}]},
      "mark": {"type": "rect", "color": "#fdebd9"},
      "encoding": {
        "x": {"field": "from", "type": "quantitative", "scale": {"domain": [-0.075, 419.675], "padding": 0, "nice": false, "zero": false}, "axis": null},
        "x2": {"field": "to"},
        "y": {"field": "top", "type": "quantitative", "scale": {"domain": [1.1274, 1.2067], "zero": false, "nice": false, "padding": 0}, "axis": null},
        "y2": {"field": "bottom"}
      }
    },
    {
      "data": {"name": "zones"},
      "mark": {"type": "rect"},
      "encoding": {
        "x": {"field": "from", "type": "quantitative", "scale": {"domain": [-0.075, 419.675], "padding": 0, "nice": false, "zero": false}, "axis": null},
        "x2": {"field": "to"},
        "y": {"field": "top", "type": "quantitative", "scale": {"domain": [1.1274, 1.2067], "zero": false, "nice": false, "padding": 0}, "axis": null},
        "y2": {"field": "bottom"},
        "color": {
          "field": "kind", "type": "nominal", "legend": null,
          "scale": {"domain": ["breaker_supply", "mitigated", "breaker_demand", "unmitigated"], "range": ["#f7c4c6", "#f8d9bb", "#b5ebe0", "#fdebd9"]}
        }
      }
    },
    {
      "data": {"name": "zigzag"},
      "mark": {"type": "line", "color": "#cccccc", "strokeWidth": 1, "strokeDash": [3, 3]},
      "encoding": {
        "x": {"field": "bar", "type": "quantitative", "scale": {"domain": [-0.075, 419.675], "padding": 0, "nice": false, "zero": false}, "axis": null},
        "y": {"field": "price", "type": "quantitative", "scale": {"domain": [1.1274, 1.2067], "zero": false, "nice": false, "padding": 0}, "axis": null}
      }
    },
    {
      "data": {"name": "candles"},
      "mark": {"type": "rule", "color": "#000000", "strokeWidth": 1},
      "encoding": {
        "x": {"field": "bar", "type": "quantitative", "scale": {"domain": [-0.075, 419.675], "padding": 0, "nice": false, "zero": false}, "axis": null},
        "y": {
          "field": "l", "type": "quantitative",
          "scale": {"domain": [1.1274, 1.2067], "zero": false, "nice": false, "padding": 0},
          "axis": {
            "orient": "right", "offset": -2, "title": null, "labels": false, "grid": false,
            "domain": true, "domainColor": "#000000", "domainWidth": 1,
            "ticks": true, "tickColor": "#000000", "tickSize": 3, "tickWidth": 1,
            "values": [1.2042, 1.2009, 1.1975, 1.1942, 1.1909, 1.1875, 1.1842, 1.1809, 1.1775, 1.1742, 1.1709, 1.1675, 1.1642, 1.1609, 1.1575, 1.1542, 1.1509, 1.1475, 1.1442, 1.1409, 1.1375, 1.1342, 1.1309, 1.1275]
          }
        },
        "y2": {"field": "h"}
      }
    },
    {
      "data": {"name": "candles"},
      "mark": {"type": "bar", "size": 2, "stroke": "#000000", "strokeWidth": 1},
      "encoding": {
        "x": {"field": "bar", "type": "quantitative", "scale": {"domain": [-0.075, 419.675], "padding": 0, "nice": false, "zero": false}, "axis": null},
        "y": {"field": "o", "type": "quantitative", "scale": {"domain": [1.1274, 1.2067], "zero": false, "nice": false, "padding": 0}, "axis": null},
        "y2": {"field": "c"},
        "color": {"condition": {"test": "datum.c > datum.o", "value": "#ffffff"}, "value": "#000000"}
      }
    },
    {
      "data": {"name": "obcandles"},
      "transform": [{"filter": "datum.part === 'wick'"}],
      "mark": {"type": "rule", "strokeWidth": 1},
      "encoding": {
        "x": {"field": "bar", "type": "quantitative", "scale": {"domain": [-0.075, 419.675], "padding": 0, "nice": false, "zero": false}, "axis": null},
        "y": {"field": "from", "type": "quantitative", "scale": {"domain": [1.1274, 1.2067], "zero": false, "nice": false, "padding": 0}, "axis": null},
        "y2": {"field": "to"},
        "color": {"field": "dir", "type": "nominal", "legend": null, "scale": {"domain": ["bull", "bear"], "range": ["#5fb95a", "#df7b5e"]}}
      }
    },
    {
      "data": {"name": "obcandles"},
      "transform": [{"filter": "datum.part === 'body'"}],
      "mark": {"type": "rule", "strokeWidth": 3.5},
      "encoding": {
        "x": {"field": "bar", "type": "quantitative", "scale": {"domain": [-0.075, 419.675], "padding": 0, "nice": false, "zero": false}, "axis": null},
        "y": {"field": "from", "type": "quantitative", "scale": {"domain": [1.1274, 1.2067], "zero": false, "nice": false, "padding": 0}, "axis": null},
        "y2": {"field": "to"},
        "color": {"field": "dir", "type": "nominal", "legend": null, "scale": {"domain": ["bull", "bear"], "range": ["#5fb95a", "#df7b5e"]}}
      }
    },
    {
      "data": {"name": "swings"},
      "mark": {"type": "circle", "size": 16, "opacity": 1},
      "encoding": {
        "x": {"field": "bar", "type": "quantitative", "scale": {"domain": [-0.075, 419.675], "padding": 0, "nice": false, "zero": false}, "axis": null},
        "y": {"field": "price", "type": "quantitative", "scale": {"domain": [1.1274, 1.2067], "zero": false, "nice": false, "padding": 0}, "axis": null},
        "color": {"field": "type", "type": "nominal", "legend": null, "scale": {"domain": ["high", "low"], "range": ["#e06b6b", "#86c24e"]}}
      }
    },
    {
      "data": {"name": "labels"},
      "mark": {"type": "text", "align": "left", "baseline": "alphabetic", "font": "DejaVu Sans", "fontSize": 10, "color": "#9b9b9b"},
      "encoding": {
        "x": {"field": "bar", "type": "quantitative", "scale": {"domain": [-0.075, 419.675], "padding": 0, "nice": false, "zero": false}, "axis": null},
        "y": {"field": "price", "type": "quantitative", "scale": {"domain": [1.1274, 1.2067], "zero": false, "nice": false, "padding": 0}, "axis": null},
        "text": {"field": "text"}
      }
    },
    {
      "data": {"values": [{"bar": 3.7, "price": 1.2057, "text": "GBPCHF.I,H1\u00a0 1.14756 1.14792 1.14433 1.14442"}]},
      "mark": {"type": "text", "align": "left", "baseline": "alphabetic", "font": "Liberation Sans", "fontSize": 9.4, "color": "#000000"},
      "encoding": {
        "x": {"field": "bar", "type": "quantitative", "scale": {"domain": [-0.075, 419.675], "padding": 0, "nice": false, "zero": false}, "axis": null},
        "y": {"field": "price", "type": "quantitative", "scale": {"domain": [1.1274, 1.2067], "zero": false, "nice": false, "padding": 0}, "axis": null},
        "text": {"field": "text"}
      }
    },
    {
      "data": {"values": [{"bar": 0.7, "price": 1.2058, "text": "▼"}]},
      "mark": {"type": "text", "align": "left", "baseline": "alphabetic", "font": "DejaVu Sans", "fontSize": 7, "color": "#000000"},
      "encoding": {
        "x": {"field": "bar", "type": "quantitative", "scale": {"domain": [-0.075, 419.675], "padding": 0, "nice": false, "zero": false}, "axis": null},
        "y": {"field": "price", "type": "quantitative", "scale": {"domain": [1.1274, 1.2067], "zero": false, "nice": false, "padding": 0}, "axis": null},
        "text": {"field": "text"}
      }
    },
    {
      "data": {"values": [{"from": 408.9, "to": 422.4, "top": 1.1667, "bottom": 1.1649}]},
      "mark": {"type": "rect", "fill": "#ffffff", "stroke": "#bdbdbd", "strokeWidth": 1, "cornerRadius": 2},
      "encoding": {
        "x": {"field": "from", "type": "quantitative", "scale": {"domain": [-0.075, 419.675], "padding": 0, "nice": false, "zero": false}, "axis": null},
        "x2": {"field": "to"},
        "y": {"field": "top", "type": "quantitative", "scale": {"domain": [1.1274, 1.2067], "zero": false, "nice": false, "padding": 0}, "axis": null},
        "y2": {"field": "bottom"}
      }
    },
    {
      "data": {"values": [{"bar": 410.2, "price": 1.1654, "text": "Vertical"}]},
      "mark": {"type": "text", "align": "left", "baseline": "alphabetic", "font": "DejaVu Sans", "fontSize": 10.6, "color": "#8c8c8c"},
      "encoding": {
        "x": {"field": "bar", "type": "quantitative", "scale": {"domain": [-0.075, 419.675], "padding": 0, "nice": false, "zero": false}, "axis": null},
        "y": {"field": "price", "type": "quantitative", "scale": {"domain": [1.1274, 1.2067], "zero": false, "nice": false, "padding": 0}, "axis": null},
        "text": {"field": "text"}
      }
    }
  ]
}
